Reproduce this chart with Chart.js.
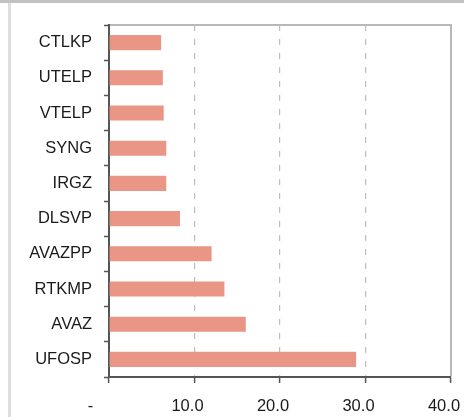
<!DOCTYPE html>
<html>
<head>
<meta charset="utf-8">
<script src="https://cdn.jsdelivr.net/npm/chart.js@4/dist/chart.umd.min.js"></script>
<style>
  html, body { margin: 0; padding: 0; background: #fff; }
  #wrap { position: relative; width: 464px; height: 417px; }
</style>
</head>
<body>
<div id="wrap"><canvas id="chart"></canvas></div>
<script>
const categories = ["CTLKP", "UTELP", "VTELP", "SYNG", "IRGZ", "DLSVP", "AVAZPP", "RTKMP", "AVAZ", "UFOSP"];
const values = [6.1, 6.3, 6.4, 6.7, 6.7, 8.3, 12.0, 13.5, 16.0, 28.9];
const xTicks = [0, 10, 20, 30, 40];

const AXIS = "#555555";
const GRID = "#bdbdbd";

// grey frame around the picture, plus the light top/right edges of the plot
const framePlugin = {
    id: "frame",
    beforeDraw(chart) {
        const c = chart.ctx;
        const area = chart.chartArea;
        c.save();
        c.fillStyle = "#c2c2c2";
        c.fillRect(0, 0, chart.width, 3);
        c.fillStyle = "#dedede";
        c.fillRect(8, 3, 3, chart.height - 3);
        c.fillStyle = "#b8b8b8";
        c.fillRect(area.left + 1, area.top - 1, area.right - area.left, 2);
        c.fillRect(area.right - 1, area.top - 1, 2, area.bottom - area.top);
        c.restore();
    },
};

const ctx = document.getElementById("chart").getContext("2d");
new Chart(ctx, {
    type: "bar",
    data: {
        labels: categories,
        datasets: [{
            data: values,
            backgroundColor: "#e99686",
            borderWidth: 0,
            barPercentage: 0.43,
            categoryPercentage: 1,
        }],
    },
    plugins: [framePlugin],
    options: {
        indexAxis: "y",
        responsive: true,
        maintainAspectRatio: false,
        animation: false,
        layout: { padding: { left: 12, right: 13, top: 25, bottom: 0 } },
        plugins: {
            legend: { display: false },
            tooltip: { enabled: false },
        },
        scales: {
            x: {
                min: 0,
                max: 40,
                afterBuildTicks: (scale) => {
                    scale.ticks = xTicks.map((v) => ({ value: v }));
                },
                afterFit: (scale) => {
                    scale.height = 40;
                    scale.paddingLeft = 0;
                    scale.paddingRight = 0;
                },
                grid: {
                    color: (c) => (c.tick && (c.tick.value === 0 || c.tick.value === 40) ? "rgba(0,0,0,0)" : GRID),
                    lineWidth: 1.2,
                    tickColor: AXIS,
                    tickLength: 6,
                    tickWidth: 1.5,
                },
                border: {
                    color: AXIS,
                    width: 2,
                    dash: (c) => (c.type === "tick" ? [6, 8] : []),
                },
                ticks: {
                    padding: 14,
                    labelOffset: -7,
                    maxRotation: 0,
                    autoSkip: false,
                    color: "#1a1a1a",
                    font: { family: "'Liberation Sans', Arial, sans-serif", size: 16.5 },
                    callback: (v) => (v === 0 ? "-     " : v.toFixed(1)),
                },
            },
            y: {
                afterFit: (scale) => {
                    scale.width = 97;
                    scale.paddingTop = 0;
                    scale.paddingBottom = 0;
                },
                grid: {
                    drawOnChartArea: false,
                    tickColor: AXIS,
                    tickLength: 5,
                    tickWidth: 1.5,
                },
                border: { color: AXIS, width: 2 },
                ticks: {
                    padding: 12,
                    autoSkip: false,
                    color: "#1a1a1a",
                    font: { family: "'Liberation Sans', Arial, sans-serif", size: 16.5 },
                },
            },
        },
    },
});
</script>
</body>
</html>
